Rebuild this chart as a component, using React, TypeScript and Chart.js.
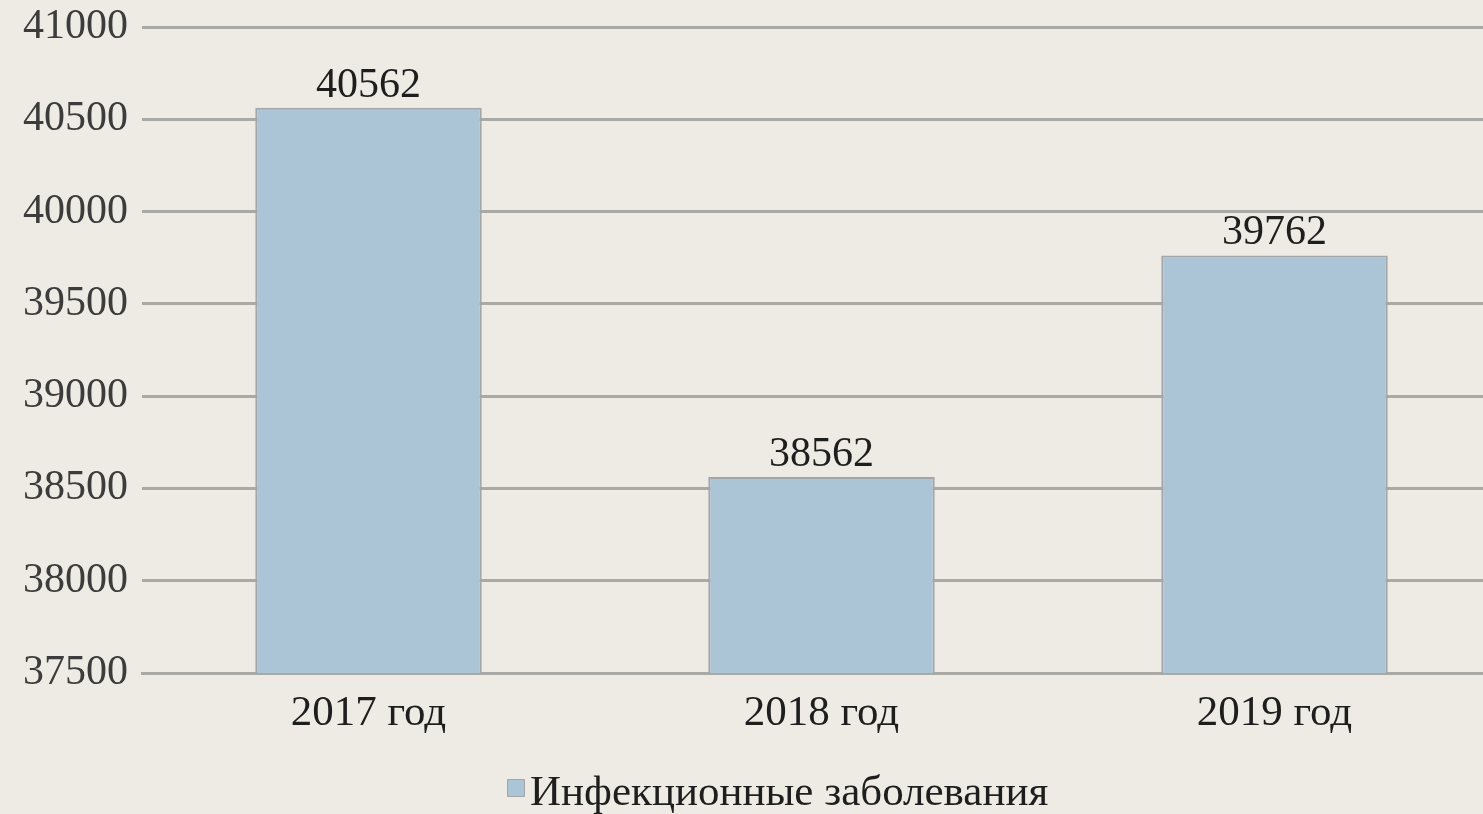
import React, { useEffect, useRef } from "react";
import { Chart, registerables } from "chart.js";

Chart.register(...registerables);

const categories = ["2017 год", "2018 год", "2019 год"];
const seriesName = "Инфекционные заболевания";
const values = [40562, 38562, 39762];
const yMin = 37500;
const yMax = 41000;
const yStep = 500;

const FONT = "'Liberation Serif', 'Times New Roman', serif";
const BAR_FILL = "#abc4d6";
const BAR_EDGE = "#a3a6a8";

const valueLabels = {
  id: "valueLabels",
  afterDatasetsDraw(chart: any) {
    const ctx = chart.ctx;
    const meta = chart.getDatasetMeta(0);
    ctx.save();
    ctx.font = `42px ${FONT}`;
    ctx.fillStyle = "#1e1e1e";
    ctx.textAlign = "center";
    ctx.textBaseline = "alphabetic";
    meta.data.forEach((bar: any, i: number) => {
      ctx.fillText(String(values[i]), bar.x, bar.y - 11);
    });
    ctx.restore();
  },
};

const bottomLegend = {
  id: "bottomLegend",
  afterDraw(chart: any) {
    const ctx = chart.ctx;
    ctx.save();
    ctx.font = `43px ${FONT}`;
    const boxX = 507;
    const boxY = 779;
    const box = 18;
    ctx.fillStyle = BAR_FILL;
    ctx.fillRect(boxX, boxY, box, box);
    ctx.strokeStyle = BAR_EDGE;
    ctx.lineWidth = 1;
    ctx.strokeRect(boxX + 0.5, boxY + 0.5, box - 1, box - 1);
    ctx.fillStyle = "#1e1e1e";
    ctx.textAlign = "left";
    ctx.textBaseline = "alphabetic";
    ctx.fillText(seriesName, boxX + box + 5, 805);
    ctx.restore();
  },
};

export default function App() {
  const ref = useRef<HTMLCanvasElement | null>(null);
  useEffect(() => {
    if (!ref.current) return;
    const chart = new Chart(ref.current, {
      type: "bar",
      data: {
        labels: categories,
        datasets: [
          {
            label: seriesName,
            data: values,
            backgroundColor: BAR_FILL,
            borderColor: BAR_EDGE,
            borderWidth: 2,
            borderSkipped: "bottom",
            barPercentage: 0.5,
            categoryPercentage: 1,
          },
        ],
      },
      options: {
        responsive: false,
        animation: false,
        maintainAspectRatio: false,
        layout: { padding: { top: 27, left: 0, right: 0, bottom: 0 } },
        plugins: {
          legend: { display: false },
          tooltip: { enabled: false },
        },
        scales: {
          x: {
            offset: true,
            grid: { display: false, drawTicks: false },
            border: { display: true, color: "#a9a9a5", width: 3 },
            ticks: {
              color: "#1e1e1e",
              padding: 15,
              font: { family: FONT, size: 43 },
            },
            afterFit: (s: any) => {
              s.height = 141;
              s.paddingLeft = 0;
              s.paddingRight = 0;
            },
          },
          y: {
            min: yMin,
            max: yMax,
            grid: { color: "#a9a9a5", lineWidth: 3, drawTicks: false },
            border: { display: false },
            ticks: {
              stepSize: yStep,
              color: "#3c3c3c",
              padding: 14,
              font: { family: FONT, size: 42 },
              callback: (v: any) => String(v),
            },
            afterFit: (s: any) => {
              s.width = 142;
              s.paddingTop = 0;
              s.paddingBottom = 0;
            },
          },
        },
      },
      plugins: [valueLabels, bottomLegend],
    });
    return () => chart.destroy();
  }, []);
  return (
    <div
      style={{
        position: "fixed",
        left: 0,
        top: 0,
        width: 1483,
        height: 814,
        overflow: "hidden",
        background: "#eeebe4",
      }}
    >
      <canvas ref={ref} width={1501} height={814} style={{ display: "block" }} />
    </div>
  );
}
